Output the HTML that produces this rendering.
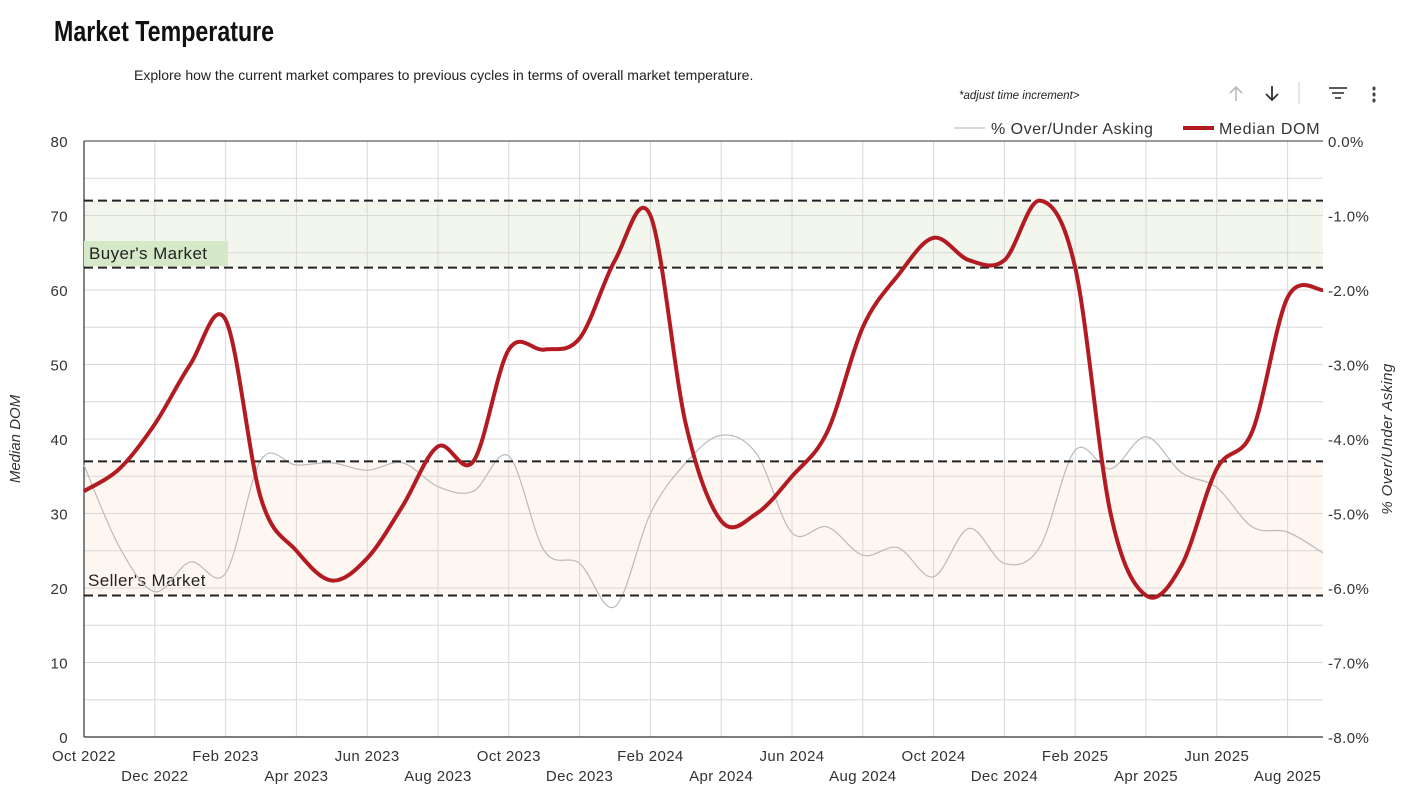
<!DOCTYPE html>
<html><head><meta charset="utf-8"><style>
body{margin:0;width:1415px;height:802px;background:#fff;font-family:"Liberation Sans",sans-serif;overflow:hidden;position:relative}
.title{position:absolute;left:54px;top:16px;font-size:29px;font-weight:bold;color:#111;transform:scaleX(0.8);transform-origin:left top;white-space:nowrap}
.sub{position:absolute;left:134px;top:67px;font-size:14px;color:#222;white-space:nowrap}
.adj{position:absolute;left:959px;top:90px;font-size:11.5px;font-style:italic;color:#222;white-space:nowrap}
svg{position:absolute;left:0;top:0}
</style></head><body>
<div class="title">Market Temperature</div>
<div class="sub">Explore how the current market compares to previous cycles in terms of overall market temperature.</div>
<div class="adj">*adjust time increment&gt;</div>
<svg id="chart" width="1415" height="802"></svg>
<script>
const months=["Oct 2022","Nov 2022","Dec 2022","Jan 2023","Feb 2023","Mar 2023","Apr 2023","May 2023","Jun 2023","Jul 2023","Aug 2023","Sep 2023","Oct 2023","Nov 2023","Dec 2023","Jan 2024","Feb 2024","Mar 2024","Apr 2024","May 2024","Jun 2024","Jul 2024","Aug 2024","Sep 2024","Oct 2024","Nov 2024","Dec 2024","Jan 2025","Feb 2025","Mar 2025","Apr 2025","May 2025","Jun 2025","Jul 2025","Aug 2025","Sep 2025"];
const medianDOM=[33,36,42,50,56,32,25,21,24,31,39,37,52,52,53.5,64,70,42,29,30,35,41,55,62,67,64,64,72,63,30,19,23,36,41,59,60];
const overAsking=[-4.35,-5.45,-6.05,-5.65,-5.8,-4.28,-4.35,-4.32,-4.42,-4.32,-4.64,-4.7,-4.23,-5.5,-5.67,-6.25,-5.0,-4.32,-3.95,-4.2,-5.26,-5.18,-5.56,-5.46,-5.85,-5.2,-5.67,-5.45,-4.15,-4.4,-3.97,-4.45,-4.65,-5.18,-5.25,-5.53];
const leftTicks=[0,10,20,30,40,50,60,70,80];
const rightTicks=["-8.0%","-7.0%","-6.0%","-5.0%","-4.0%","-3.0%","-2.0%","-1.0%","0.0%"];
const thresholds=[72,63,37,19];
const NS="http://www.w3.org/2000/svg";
const svg=document.getElementById('chart');
const X0=84,X1=1323,Y0=737,Y1=141;
const x=i=>X0+(X1-X0)*i/(months.length-1);
const y=v=>Y0-(Y0-Y1)*v/80;
const yr=p=>Y0-(Y0-Y1)*(p+8)/8;
function el(t,a,txt){const e=document.createElementNS(NS,t);for(const k in a)e.setAttribute(k,a[k]);if(txt!=null)e.textContent=txt;svg.appendChild(e);return e;}
let b=el('rect',{x:X0,y:y(72),width:X1-X0,height:y(63)-y(72),fill:'#f2f6ec'});


b=el('rect',{x:X0,y:y(37),width:X1-X0,height:y(19)-y(37),fill:'#fdf6f1'});


for(let v=5;v<80;v+=5){const g=el('line',{x1:X0,x2:X1,y1:y(v),y2:y(v),stroke:'#d8d8d8','stroke-width':1});

}
for(let i=2;i<months.length;i+=2){const g=el('line',{x1:x(i),x2:x(i),y1:Y1,y2:Y0,stroke:'#d8d8d8','stroke-width':1});

}
let a=el('line',{x1:X0,x2:X0,y1:Y1,y2:Y0,stroke:'#333','stroke-width':1.2});


a=el('line',{x1:X0,x2:X1,y1:Y0,y2:Y0,stroke:'#333','stroke-width':1.2});


a=el('line',{x1:X0,x2:X1,y1:Y1,y2:Y1,stroke:'#333','stroke-width':1});


let t=el('rect',{x:X0,y:241,width:144,height:25,fill:'#d5e8c8'});


t=el('text',{x:89,y:259,'font-size':17,fill:'#222','letter-spacing':0.4},"Buyer's Market");


t=el('text',{x:88,y:586,'font-size':17,fill:'#222','letter-spacing':0.4},"Seller's Market");


function path(pts){let d=`M${pts[0][0]},${pts[0][1]}`;for(let i=0;i<pts.length-1;i++){const p0=pts[Math.max(i-1,0)],p1=pts[i],p2=pts[i+1],p3=pts[Math.min(i+2,pts.length-1)];const c1=[p1[0]+(p2[0]-p0[0])/6,p1[1]+(p2[1]-p0[1])/6],c2=[p2[0]-(p3[0]-p1[0])/6,p2[1]-(p3[1]-p1[1])/6];d+=` C${c1[0]},${c1[1]} ${c2[0]},${c2[1]} ${p2[0]},${p2[1]}`;}return d;}
let p=el('path',{d:path(overAsking.map((v,i)=>[x(i),yr(v)])),fill:'none',stroke:'#bbb','stroke-width':1.2});


thresholds.forEach(v=>{const l=el('line',{x1:X0,x2:X1,y1:y(v),y2:y(v),stroke:'#222','stroke-width':2,'stroke-dasharray':'9,5'});

});
p=el('path',{d:path(medianDOM.map((v,i)=>[x(i),y(v)])),fill:'none',stroke:'#b31b22','stroke-width':4,'stroke-linejoin':'round'});


leftTicks.forEach(v=>{const e=el('text',{x:68,y:y(v)+6,'font-size':15,fill:'#333','text-anchor':'end','letter-spacing':0.4},String(v));

});
rightTicks.forEach((s,i)=>{const e=el('text',{x:1328,y:y(i*10)+6,'font-size':15,fill:'#333','letter-spacing':0.4},s);

});
months.forEach((m,i)=>{if(i%2)return;const row=(i/2)%2;const e=el('text',{x:x(i),y:row?781:761,'font-size':15,fill:'#333','text-anchor':'middle','letter-spacing':0.4},m);

});
t=el('text',{x:0,y:0,'font-size':15,fill:'#333','font-style':'italic','text-anchor':'middle',transform:'translate(20,439) rotate(-90)'},'Median DOM');


t=el('text',{x:0,y:0,'font-size':15,fill:'#333','font-style':'italic','text-anchor':'middle',transform:'translate(1392,439) rotate(-90)','letter-spacing':0.4},'% Over/Under Asking');


let lg=el('line',{x1:954,x2:985,y1:128,y2:128,stroke:'#ccc','stroke-width':1.5});


lg=el('text',{x:991,y:134,'font-size':16,fill:'#333','letter-spacing':0.5},'% Over/Under Asking');


lg=el('line',{x1:1183,x2:1214,y1:128,y2:128,stroke:'#b31b22','stroke-width':4});


lg=el('text',{x:1219,y:134,'font-size':16,fill:'#333','letter-spacing':0.7},'Median DOM');


let ic=el('path',{d:'M1236,101v-14M1230,93l6,-6l6,6',stroke:'#bbb','stroke-width':1.6,fill:'none'});


ic=el('path',{d:'M1272,86v14M1266,94l6,6l6,-6',stroke:'#333','stroke-width':1.8,fill:'none'});


el('line',{x1:1299,x2:1299,y1:82,y2:104,stroke:'#ccc','stroke-width':1});
ic=el('path',{d:'M1329,88h18M1332,93h12M1335,98h6',stroke:'#444','stroke-width':1.8,fill:'none'});


ic=el('path',{d:'M1374,88v1M1374,94v1M1374,100v1',stroke:'#444','stroke-width':3,'stroke-linecap':'round',fill:'none'});


</script>
</body></html>
